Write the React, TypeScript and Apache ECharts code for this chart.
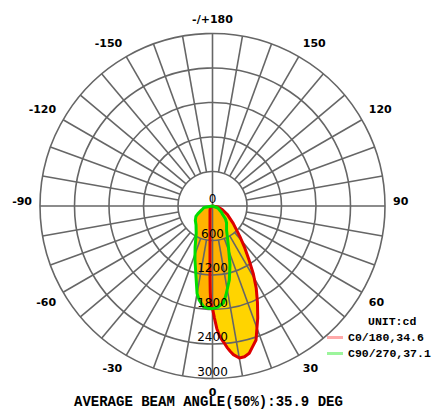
import React, { useEffect, useRef } from "react";
import * as echarts from "echarts";

// C0/180 plane (gamma angle in degrees, intensity in cd)
const c0Angles = [-180, -90, -60, -30, -15, -10, -5, -3, -2, -1.5, -1, 0, 1, 2, 3, 4, 5, 6, 7, 8, 10, 12, 14, 16, 18, 20, 22, 25, 28, 31, 34, 38, 42, 50, 60, 70, 80, 90, 180];
const c0Values = [0, 0, 40, 87, 168, 250, 499, 831, 1245, 1500, 1680, 1780, 1950, 2130, 2250, 2330, 2400, 2480, 2550, 2610, 2685, 2680, 2640, 2540, 2450, 2260, 2100, 1850, 1620, 1380, 1140, 900, 710, 470, 300, 180, 90, 0, 0];

// C90/270 plane
const c90Angles = [-180, -90, -80, -70, -62, -58, -50, -41, -31, -23, -18, -14, -10, -8, -5, -2.5, 0, 3, 6.4, 8.6, 12.8, 16.5, 22, 30, 40, 45, 50, 55, 70, 90, 180];
const c90Values = [0, 0, 150, 200, 290, 340, 390, 437, 550, 775, 987, 1202, 1545, 1655, 1760, 1781, 1785, 1760, 1697, 1566, 1320, 1070, 733, 490, 380, 320, 230, 190, 100, 0, 0];

const seriesNames = ["C0/180,34.6", "C90/270,37.1"];
const radiusTicks = [0, 600, 1200, 1800, 2400, 3000];
const mainAxes = [0, 90, 180, 270];
const spokeStep = 10;
const unitText = "UNIT:cd";
const footerText = "AVERAGE BEAM ANGLE(50%):35.9 DEG";

const toPolar = (angles: number[], values: number[]) =>
  angles.map((a, i) => [values[i], a < 0 ? a + 360 : a]);

const gridColor = "#666666";
const gridWidth = 1.6;
const c0Fill = "#ffd400";
const c90Fill = "#ffb300";
const c0Line = "#dd0000";
const c90Line = "#00dd00";

export default function App() {
  const ref = useRef<HTMLDivElement>(null);
  useEffect(() => {
    if (!ref.current) return;
    const chart = echarts.init(ref.current, null, { renderer: "svg" });
    const c0 = toPolar(c0Angles, c0Values);
    const c90 = toPolar(c90Angles, c90Values);
    const rMax = radiusTicks[radiusTicks.length - 1];
    const rInner = radiusTicks[1];
    const angleLabel = (v: number) => {
      if (v % 30 !== 0 || v >= 360) return "";
      if (v === 180) return "-/+180";
      const d = v > 180 ? v - 360 : v;
      if (d === 90 || d === -90) return "{up|" + d + "}";
      return String(d);
    };
    const labelFont = { fontFamily: "DejaVu Sans", fontSize: 11, fontWeight: "bold", color: "#000" };

    const renderFills = (_params: any, api: any) => ({
      type: "group",
      children: [
        {
          type: "polygon",
          shape: { points: c0.map((d) => api.coord(d)) },
          style: { fill: c0Fill, blend: "multiply" },
        },
        { type: "polygon", shape: { points: c90.map((d) => api.coord(d)) }, style: { fill: c90Fill } },
      ],
    });

    const renderGrid = (_params: any, api: any) => {
      const c = api.coord([0, 0]);
      const children: any[] = [];
      radiusTicks.slice(1).forEach((r) => {
        const p = api.coord([r, 0]);
        const rad = Math.hypot(p[0] - c[0], p[1] - c[1]);
        children.push({
          type: "circle",
          shape: { cx: c[0], cy: c[1], r: rad },
          style: { stroke: gridColor, lineWidth: gridWidth, fill: null },
        });
      });
      for (let a = 0; a < 360; a += spokeStep) {
        const from = api.coord([mainAxes.indexOf(a) >= 0 ? 0 : rInner, a]);
        const to = api.coord([rMax, a]);
        children.push({
          type: "line",
          shape: { x1: from[0], y1: from[1], x2: to[0], y2: to[1] },
          style: { stroke: gridColor, lineWidth: gridWidth },
        });
      }
      return { type: "group", children };
    };

    const renderOutline = (pts: number[][], color: string) => (_params: any, api: any) => ({
      type: "polyline",
      shape: { points: pts.map((d) => api.coord(d)) },
      style: { stroke: color, lineWidth: 3, fill: null, lineJoin: "round" },
    });

    chart.setOption({
      animation: false,
      title: [
        {
          text: unitText,
          left: 368,
          top: 315,
          padding: 0,
          textStyle: { fontFamily: "Liberation Mono", fontWeight: "bold", fontSize: 11.5, color: "#000" },
        },
        {
          text: footerText,
          left: 74,
          top: 395,
          padding: 0,
          textStyle: { fontFamily: "Liberation Mono", fontWeight: "bold", fontSize: 14, color: "#000", lineHeight: 13 },
        },
      ],
      legend: {
        orient: "vertical",
        left: 327,
        top: 331,
        padding: 0,
        itemWidth: 16,
        itemHeight: 3,
        itemGap: 3,
        selectedMode: false,
        textStyle: { fontFamily: "Liberation Mono", fontWeight: "bold", fontSize: 11.5, color: "#000", lineHeight: 13 },
        data: [
          { name: seriesNames[0], icon: "rect", itemStyle: { color: "#ffa9a9" } },
          { name: seriesNames[1], icon: "rect", itemStyle: { color: "#9cf59c" } },
        ],
      },
      polar: { center: [212.5, 206], radius: 172.5 },
      angleAxis: {
        type: "value",
        min: 0,
        max: 360,
        interval: 10,
        startAngle: 270,
        clockwise: false,
        axisLine: { show: false },
        axisTick: { show: false },
        splitLine: { show: false },
        axisLabel: {
          show: true,
          margin: 8,
          ...labelFont,
          lineHeight: 12,
          formatter: angleLabel,
          rich: { up: { ...labelFont, padding: [0, 0, 10, 0] } },
        },
      },
      radiusAxis: {
        type: "value",
        min: radiusTicks[0],
        max: rMax,
        interval: 600,
        zlevel: 3,
        axisLine: { show: false },
        axisTick: { show: false },
        splitLine: { show: false },
        axisLabel: {
          show: true,
          margin: 0,
          align: "center",
          verticalAlign: "bottom",
          padding: [0, 0, 1, 0],
          fontFamily: "DejaVu Sans",
          fontSize: 12,
          color: "#000",
          formatter: (v: number) => String(v),
        },
      },
      series: [
        {
          type: "custom",
          name: "fills",
          coordinateSystem: "polar",
          data: [[0, 0]],
          silent: true,
          zlevel: 0,
          z: 1,
          renderItem: renderFills,
        },
        {
          type: "custom",
          name: "grid",
          coordinateSystem: "polar",
          data: [[0, 0]],
          silent: true,
          zlevel: 1,
          z: 1,
          renderItem: renderGrid,
        },
        {
          type: "custom",
          name: seriesNames[0],
          coordinateSystem: "polar",
          data: [[0, 0]],
          silent: true,
          zlevel: 2,
          z: 1,
          color: c0Line,
          renderItem: renderOutline(c0, c0Line),
        },
        {
          type: "custom",
          name: seriesNames[1],
          coordinateSystem: "polar",
          data: [[0, 0]],
          silent: true,
          zlevel: 2,
          z: 2,
          color: c90Line,
          renderItem: renderOutline(c90, c90Line),
        },
      ],
    });
    return () => chart.dispose();
  }, []);
  return (
    <div
      ref={ref}
      style={{ position: "fixed", left: 0, top: 0, width: 432, height: 409, background: "#fff" }}
    />
  );
}
